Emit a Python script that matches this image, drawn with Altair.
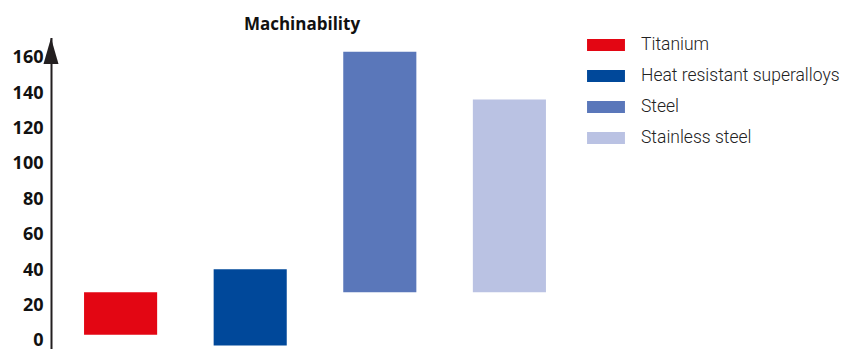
import altair as alt
import pandas as pd

materials = ["Titanium", "Heat resistant superalloys", "Steel", "Stainless steel"]
low = [4, -2, 28, 28]
high = [28, 41, 164, 137]
colors = ["#E30613", "#00489A", "#5A77BA", "#BAC2E3"]
y_ticks = [0, 20, 40, 60, 80, 100, 120, 140, 160]

df = pd.DataFrame({"material": materials, "low": low, "high": high})

yscale = alt.Scale(domain=[-4, 172], nice=False, zero=False)
noview = alt.ViewBackground(strokeWidth=0, stroke="transparent")

bars = alt.Chart(df).mark_bar().encode(
    x=alt.X("material:N", sort=materials, axis=None,
            scale=alt.Scale(paddingInner=0.436, paddingOuter=0.255)),
    y=alt.Y("low:Q", scale=yscale, title=None,
            axis=alt.Axis(values=y_ticks, grid=False, ticks=False, tickSize=0,
                          domainColor="#231f20", domainWidth=2,
                          labelFont="Open Sans", labelFontWeight="bold",
                          labelFontSize=18, labelColor="#111111",
                          labelPadding=8, labelOffset=-1)),
    y2="high:Q",
    color=alt.Color("material:N", sort=materials,
                    scale=alt.Scale(domain=materials, range=colors),
                    legend=alt.Legend(title=None, orient="none",
                                      legendX=543, legendY=-4.5,
                                      symbolType="M-1.58,-0.5H1.58V0.5H-1.58Z",
                                      symbolSize=576, symbolStrokeWidth=0,
                                      symbolOpacity=1, rowPadding=10,
                                      labelOffset=23, padding=0,
                                      labelFont="Roboto", labelFontWeight=300,
                                      labelFontSize=17.5, labelColor="#222222",
                                      labelLimit=400)),
)

arrow = alt.Chart(pd.DataFrame({"a": [0]})).mark_point(
    shape="M0,-1L0.577,1L-0.577,1Z", size=676, filled=True,
    color="#231f20", opacity=1, strokeWidth=0,
).encode(x=alt.value(0), y=alt.value(13.5))

chart = alt.layer(bars, arrow).properties(
    width=528, height=311.5,
    view=noview,
    title=alt.TitleParams("Machinability", font="Open Sans", fontWeight="bold",
                          fontSize=17, color="#111111", anchor="middle",
                          dx=-13, offset=-1),
    autosize=alt.AutoSizeParams(type="none"),
    padding={"left": 51, "top": 37.5, "right": 267, "bottom": 0},
).configure_view(stroke="transparent", strokeWidth=0).configure(background="white")

chart.save("out.html", embed_options={"renderer": "svg", "actions": False})
